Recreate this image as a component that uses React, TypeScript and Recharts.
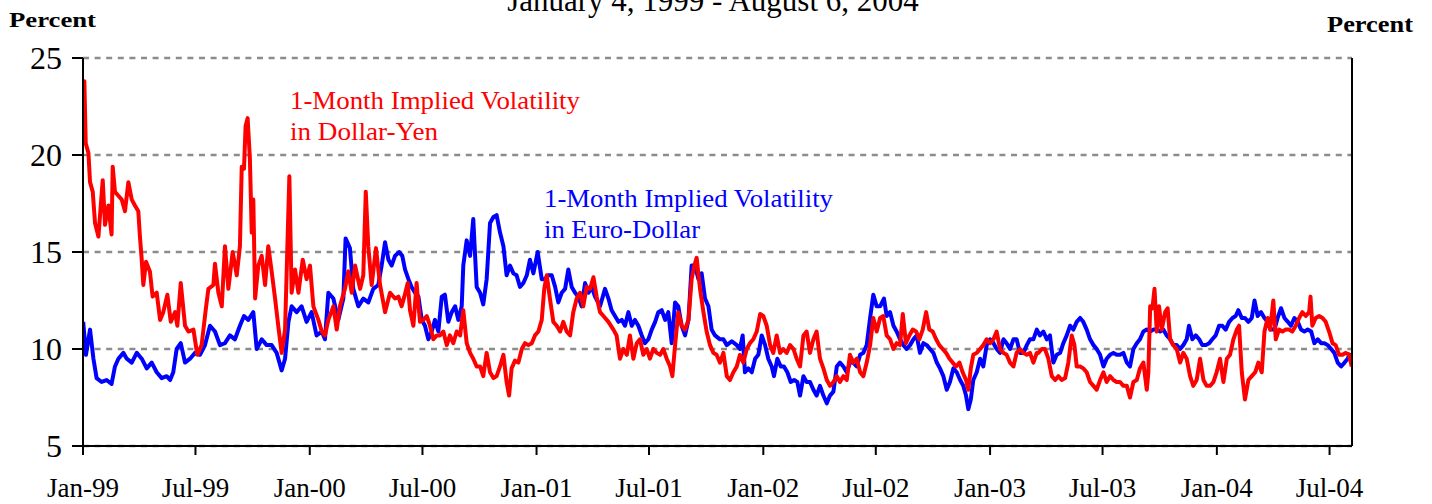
import React from 'react';
import { LineChart, Line, XAxis, YAxis, CartesianGrid } from 'recharts';

// Decimal-year time stamps and values
const yenT = [
  1999.001, 1999.006, 1999.012, 1999.024, 1999.031, 1999.043, 1999.053, 1999.068, 1999.087, 1999.097,
  1999.112, 1999.126, 1999.131, 1999.141, 1999.156, 1999.171, 1999.185, 1999.200, 1999.215, 1999.229,
  1999.244, 1999.251, 1999.259, 1999.266, 1999.278, 1999.295, 1999.307, 1999.325, 1999.340, 1999.354,
  1999.372, 1999.387, 1999.406, 1999.416, 1999.431, 1999.450, 1999.465, 1999.487, 1999.504, 1999.523,
  1999.542, 1999.553, 1999.575, 1999.582, 1999.597, 1999.612, 1999.626, 1999.641, 1999.660, 1999.678,
  1999.692, 1999.700, 1999.710, 1999.717, 1999.726, 1999.736, 1999.744, 1999.751, 1999.759, 1999.773,
  1999.788, 1999.803, 1999.817, 1999.832, 1999.847, 1999.861, 1999.876, 1999.891, 1999.910, 1999.920,
  1999.935, 1999.950, 1999.969, 1999.986, 2000.001, 2000.016, 2000.038, 2000.053, 2000.067, 2000.082,
  2000.104, 2000.119, 2000.133, 2000.155, 2000.170, 2000.185, 2000.200, 2000.222, 2000.236, 2000.247,
  2000.258, 2000.273, 2000.292, 2000.310, 2000.332, 2000.354, 2000.376,
  2000.391, 2000.405, 2000.417, 2000.432, 2000.442, 2000.457, 2000.471, 2000.486, 2000.501, 2000.516,
  2000.530, 2000.545, 2000.560, 2000.574, 2000.589, 2000.604, 2000.618, 2000.633, 2000.648, 2000.663,
  2000.677, 2000.692, 2000.707, 2000.721, 2000.736, 2000.751, 2000.765, 2000.780, 2000.795, 2000.810,
  2000.824, 2000.839, 2000.854, 2000.868, 2000.879, 2000.890, 2000.905, 2000.920, 2000.935, 2000.949,
  2000.964, 2000.979, 2000.993, 2001.008, 2001.023, 2001.034, 2001.045, 2001.059, 2001.074, 2001.089,
  2001.104, 2001.118, 2001.133, 2001.148, 2001.162, 2001.177, 2001.192, 2001.206, 2001.221, 2001.236,
  2001.251, 2001.265, 2001.280, 2001.295, 2001.317, 2001.339, 2001.353, 2001.368, 2001.383, 2001.398,
  2001.412, 2001.427, 2001.442, 2001.456, 2001.471, 2001.486, 2001.500, 2001.515, 2001.530, 2001.545,
  2001.559, 2001.574, 2001.589, 2001.599, 2001.611, 2001.625, 2001.640, 2001.655, 2001.670, 2001.684,
  2001.696, 2001.706, 2001.721, 2001.736, 2001.750, 2001.765, 2001.780, 2001.794, 2001.809,
  2001.824, 2001.839, 2001.853, 2001.868, 2001.883, 2001.897, 2001.912, 2001.927, 2001.941, 2001.956,
  2001.971, 2001.986, 2002.000, 2002.015, 2002.030, 2002.044, 2002.059, 2002.074, 2002.088, 2002.103,
  2002.118, 2002.133, 2002.147, 2002.162, 2002.177, 2002.191, 2002.206, 2002.221, 2002.235, 2002.250,
  2002.265, 2002.280, 2002.294, 2002.309, 2002.324, 2002.338, 2002.353, 2002.368, 2002.382, 2002.397,
  2002.412, 2002.427, 2002.441, 2002.456, 2002.471, 2002.485, 2002.500, 2002.515, 2002.529, 2002.544,
  2002.559, 2002.574, 2002.588, 2002.603, 2002.615, 2002.629, 2002.644, 2002.659, 2002.674, 2002.688,
  2002.703, 2002.718, 2002.732, 2002.747, 2002.762, 2002.776, 2002.791, 2002.806, 2002.821, 2002.835,
  2002.850, 2002.865, 2002.879, 2002.894, 2002.904, 2002.915, 2002.926, 2002.941, 2002.956, 2002.970,
  2002.985, 2003.000, 2003.015, 2003.029, 2003.044, 2003.059, 2003.073, 2003.088, 2003.103, 2003.117,
  2003.132, 2003.147, 2003.162, 2003.176, 2003.191, 2003.206,
  2003.213, 2003.228, 2003.242, 2003.257, 2003.272, 2003.287, 2003.301, 2003.316, 2003.331, 2003.345,
  2003.360, 2003.372, 2003.382, 2003.397, 2003.411, 2003.426, 2003.441, 2003.456, 2003.470, 2003.485,
  2003.500, 2003.514, 2003.529, 2003.544, 2003.558, 2003.573, 2003.588, 2003.603, 2003.617, 2003.632,
  2003.647, 2003.661, 2003.676, 2003.691, 2003.698, 2003.706, 2003.716, 2003.725, 2003.735, 2003.745,
  2003.757, 2003.772, 2003.783, 2003.794, 2003.808, 2003.823, 2003.838, 2003.852, 2003.867, 2003.882,
  2003.896, 2003.911, 2003.926, 2003.941, 2003.955, 2003.970, 2003.985, 2003.999, 2004.014, 2004.029,
  2004.044, 2004.058, 2004.073, 2004.088, 2004.098, 2004.110, 2004.124, 2004.139, 2004.154, 2004.169,
  2004.183, 2004.198, 2004.210, 2004.224, 2004.235, 2004.249, 2004.260, 2004.274, 2004.289, 2004.304,
  2004.318, 2004.333, 2004.348, 2004.363, 2004.377, 2004.392, 2004.407, 2004.413, 2004.421, 2004.436,
  2004.451, 2004.466, 2004.480, 2004.495, 2004.510, 2004.524, 2004.539, 2004.554, 2004.568, 2004.583,
  2004.595,
];
const yenV = [
  20.8, 23.8, 20.6, 20.1, 18.6, 18.1, 16.5, 15.8, 18.7, 16.4,
  17.4, 15.9, 19.4, 18.1, 17.9, 17.7, 17.1, 18.6, 17.7, 17.4,
  17.1, 15.8, 14.6, 13.3, 14.5, 14.0, 12.7, 12.9, 11.5, 11.9,
  12.8, 11.4, 11.9, 11.2, 13.4, 11.2, 10.9, 11.0, 9.7, 10.2,
  12.1, 13.1, 13.3, 14.4, 12.9, 12.2, 15.3, 13.1, 15.0, 13.8,
  15.3, 19.4, 19.3, 21.5, 21.9, 19.8, 16.0, 17.7, 12.6, 14.3,
  14.8, 13.3, 15.3, 14.0, 12.6, 11.2, 9.8, 11.0, 18.9, 12.9,
  14.1, 12.9, 14.6, 13.6, 14.3, 12.2, 11.5, 10.9, 10.7, 11.5,
  12.2, 11.0, 12.2, 13.1, 14.0, 12.9, 14.3, 13.1, 13.8, 18.1,
  15.3, 13.3, 15.2, 13.3, 11.9, 12.9, 12.6,
  12.7, 12.2, 12.7, 13.4, 12.0, 11.2, 13.4, 11.4, 11.5, 11.7,
  11.2, 10.5, 10.7, 10.7, 10.9, 10.2, 10.7, 10.3, 10.9, 10.7,
  12.0, 10.3, 9.8, 9.5, 9.1, 9.1, 8.6, 9.8, 8.8, 8.5,
  8.6, 9.1, 9.7, 8.3, 7.6, 9.0, 9.4, 9.3, 10.0, 10.3,
  10.2, 10.3, 10.7, 10.9, 11.5, 13.1, 13.8, 12.6, 11.4, 11.2,
  10.9, 11.4, 10.9, 10.7, 11.9, 12.6, 12.9, 12.2, 13.2, 13.1,
  13.7, 12.7, 11.9, 11.7, 11.4, 11.0, 10.7, 9.5, 10.0, 9.7,
  10.7, 9.5, 10.3, 10.5, 9.7, 10.0, 9.5, 10.0, 9.8, 9.7,
  10.0, 9.5, 9.1, 8.6, 10.2, 11.9, 11.2, 11.0, 11.5, 13.6,
  14.3, 14.7, 13.1, 11.9, 10.9, 10.2, 9.8, 9.7, 9.3,
  9.8, 8.6, 8.4, 8.8, 9.1, 9.7, 9.3, 10.0, 10.3, 10.5,
  10.9, 11.8, 11.7, 11.2, 10.2, 9.8, 10.7, 9.8, 10.0, 9.8,
  10.2, 10.0, 9.5, 9.1, 10.7, 10.9, 9.8, 10.5, 10.9, 9.5,
  9.0, 8.4, 8.1, 8.3, 8.6, 8.3, 8.6, 8.4, 9.7, 9.3,
  9.5, 8.8, 8.6, 9.3, 10.2, 11.6, 10.9, 11.6, 11.7, 10.7,
  10.5, 10.0, 10.3, 10.2, 11.8, 10.3, 10.7, 11.0, 10.9, 10.5,
  11.0, 11.9, 11.0, 10.9, 10.5, 10.2, 10.0, 9.8, 9.5, 9.3,
  9.1, 9.3, 8.8, 8.4, 7.9, 9.0, 9.7, 9.8, 10.0, 10.2,
  10.5, 10.3, 10.5, 10.9, 10.0, 9.8, 9.7, 9.3, 9.1, 9.8,
  10.0, 9.8, 9.7, 9.8, 9.3, 9.8,
  9.8, 10.0, 10.0, 9.5, 8.6, 8.4, 8.6, 8.4, 8.5, 9.3,
  10.7, 10.2, 9.1, 9.1, 9.0, 8.8, 8.3, 8.1, 7.9, 8.4,
  8.8, 8.3, 8.6, 8.4, 8.3, 8.3, 8.1, 8.1, 7.5, 8.3,
  8.4, 9.0, 9.3, 7.9, 8.8, 12.2, 12.1, 13.1, 10.9, 12.2,
  11.0, 11.9, 12.1, 10.5, 10.2, 10.0, 9.3, 9.8, 9.5, 8.6,
  8.1, 8.4, 9.5, 8.4, 8.1, 8.1, 8.3, 8.8, 9.5, 8.3,
  9.5, 9.7, 10.5, 11.0, 11.2, 8.8, 7.4, 8.4, 8.6, 8.8,
  9.3, 8.8, 10.9, 11.6, 11.0, 12.5, 10.5, 11.0, 10.9, 11.0,
  11.0, 10.9, 11.2, 11.6, 11.9, 11.7, 11.9, 12.7, 11.2, 11.6,
  11.7, 11.6, 11.4, 10.9, 10.3, 10.2, 9.7, 9.7, 9.8, 9.7,
  9.1,
];

const euroT = [
  1999.001, 1999.013, 1999.031, 1999.046, 1999.060, 1999.082, 1999.104, 1999.126, 1999.141, 1999.156,
  1999.178, 1999.193, 1999.215, 1999.237, 1999.259, 1999.281, 1999.303, 1999.325, 1999.347, 1999.369,
  1999.384, 1999.398, 1999.413, 1999.431, 1999.450, 1999.472, 1999.494, 1999.516, 1999.538, 1999.560,
  1999.582, 1999.604, 1999.626, 1999.648, 1999.670, 1999.692, 1999.710, 1999.729, 1999.751, 1999.766,
  1999.788, 1999.810, 1999.832, 1999.854, 1999.876, 1999.891, 1999.906, 1999.920, 1999.942, 1999.964,
  1999.986, 2000.008, 2000.030, 2000.053, 2000.067, 2000.082, 2000.104, 2000.126, 2000.148, 2000.158,
  2000.177, 2000.192, 2000.214, 2000.236, 2000.258, 2000.280, 2000.302, 2000.317, 2000.332, 2000.347,
  2000.361, 2000.376,
  2000.394, 2000.408, 2000.420, 2000.435, 2000.449, 2000.464, 2000.479, 2000.494, 2000.508, 2000.523,
  2000.538, 2000.552, 2000.567, 2000.582, 2000.596, 2000.611, 2000.626, 2000.641, 2000.655, 2000.670,
  2000.677, 2000.692, 2000.707, 2000.721, 2000.736, 2000.751, 2000.765, 2000.780, 2000.795, 2000.810,
  2000.824, 2000.839, 2000.854, 2000.868, 2000.883, 2000.898, 2000.912, 2000.927, 2000.942, 2000.957,
  2000.971, 2000.986, 2001.005, 2001.023, 2001.037, 2001.052, 2001.067, 2001.082, 2001.096, 2001.111,
  2001.126, 2001.140, 2001.155, 2001.170, 2001.184, 2001.199, 2001.214, 2001.229, 2001.243, 2001.258,
  2001.280, 2001.302, 2001.317, 2001.331, 2001.346, 2001.361, 2001.376, 2001.390, 2001.405, 2001.420,
  2001.434, 2001.449, 2001.464, 2001.478, 2001.493, 2001.508, 2001.523, 2001.537, 2001.552, 2001.567,
  2001.581, 2001.596, 2001.611, 2001.625, 2001.640, 2001.655, 2001.670, 2001.684, 2001.699, 2001.714,
  2001.728, 2001.743, 2001.758, 2001.772, 2001.787, 2001.809,
  2001.824, 2001.839, 2001.861, 2001.883, 2001.897, 2001.909, 2001.919, 2001.934, 2001.949, 2001.964,
  2001.978, 2001.993, 2002.008, 2002.022, 2002.037, 2002.047, 2002.062, 2002.077, 2002.091, 2002.106,
  2002.121, 2002.136, 2002.150, 2002.162, 2002.177, 2002.191, 2002.206, 2002.221, 2002.235, 2002.250,
  2002.265, 2002.280, 2002.294, 2002.309, 2002.324, 2002.338, 2002.353, 2002.368, 2002.382, 2002.397,
  2002.412, 2002.427, 2002.441, 2002.456, 2002.471, 2002.485, 2002.500, 2002.515, 2002.532, 2002.544,
  2002.559, 2002.574, 2002.588, 2002.603, 2002.618, 2002.632, 2002.647, 2002.662, 2002.676, 2002.691,
  2002.706, 2002.721, 2002.735, 2002.750, 2002.765, 2002.779, 2002.794, 2002.809, 2002.823, 2002.838,
  2002.853, 2002.868, 2002.882, 2002.894, 2002.904, 2002.915, 2002.926, 2002.941, 2002.956, 2002.970,
  2002.985, 2003.000, 2003.015, 2003.029, 2003.044, 2003.059, 2003.073, 2003.088, 2003.103, 2003.117,
  2003.132, 2003.147, 2003.162, 2003.176, 2003.191, 2003.206,
  2003.220, 2003.235, 2003.250, 2003.264, 2003.279, 2003.294, 2003.309, 2003.323, 2003.338, 2003.353,
  2003.367, 2003.382, 2003.397, 2003.411, 2003.426, 2003.441, 2003.456, 2003.470, 2003.485, 2003.500,
  2003.514, 2003.529, 2003.544, 2003.558, 2003.573, 2003.588, 2003.603, 2003.617, 2003.632, 2003.647,
  2003.661, 2003.676, 2003.691, 2003.706, 2003.720, 2003.735, 2003.750, 2003.764, 2003.779, 2003.794,
  2003.808, 2003.823, 2003.838, 2003.852, 2003.867, 2003.877, 2003.892, 2003.907, 2003.922, 2003.936,
  2003.951, 2003.966, 2003.980, 2003.995, 2004.010, 2004.024, 2004.039, 2004.054, 2004.069, 2004.083,
  2004.095, 2004.110, 2004.124, 2004.139, 2004.154, 2004.166, 2004.180, 2004.195, 2004.210, 2004.224,
  2004.239, 2004.254, 2004.268, 2004.283, 2004.298, 2004.313, 2004.327, 2004.342, 2004.357, 2004.371,
  2004.386, 2004.401, 2004.416, 2004.430, 2004.445, 2004.460, 2004.474, 2004.489, 2004.504, 2004.518,
  2004.533, 2004.548, 2004.563, 2004.577, 2004.588,
];
const euroV = [
  11.4, 9.7, 11.0, 9.5, 8.5, 8.3, 8.4, 8.2, 9.1, 9.5,
  9.8, 9.5, 9.3, 9.8, 9.5, 9.0, 9.3, 8.8, 8.5, 8.6,
  8.4, 8.8, 10.0, 10.3, 9.3, 9.5, 9.8, 9.7, 10.2, 11.2,
  10.9, 10.2, 10.3, 10.7, 10.5, 11.2, 11.7, 11.5, 11.9, 10.0,
  10.5, 10.2, 10.2, 9.8, 8.9, 9.5, 11.4, 12.2, 11.9, 12.2,
  11.4, 11.9, 10.7, 10.9, 10.5, 12.9, 12.6, 11.5, 12.6, 15.7,
  15.2, 13.1, 12.2, 12.6, 12.4, 13.1, 13.3, 14.3, 15.5, 14.6,
  14.3, 14.8,
  15.0, 14.8, 14.1, 13.6, 13.2, 12.9, 12.7, 11.5, 11.2, 10.5,
  10.9, 11.5, 10.9, 12.7, 12.8, 11.4, 11.9, 12.2, 11.5, 12.2,
  14.3, 15.6, 14.8, 16.7, 13.2, 12.9, 12.3, 13.6, 16.5, 16.8,
  16.9, 16.0, 15.3, 13.8, 14.3, 13.9, 13.8, 13.2, 13.4, 13.8,
  14.6, 13.9, 15.0, 13.6, 13.6, 13.8, 13.8, 13.2, 12.4, 12.9,
  13.1, 14.1, 13.2, 12.9, 12.7, 12.2, 13.4, 12.9, 13.2, 12.7,
  12.2, 13.1, 12.6, 12.0, 11.7, 11.4, 11.5, 11.2, 11.9, 11.2,
  11.5, 11.2, 10.7, 10.3, 10.5, 11.0, 11.4, 11.9, 12.0, 11.5,
  11.9, 10.3, 12.4, 12.2, 11.2, 10.7, 11.5, 14.3, 14.3, 13.6,
  13.9, 12.6, 12.2, 11.0, 10.7, 10.5,
  10.5, 10.2, 10.4, 10.2, 10.0, 10.7, 8.8, 9.0, 8.8, 9.5,
  9.7, 10.7, 10.2, 9.5, 9.1, 8.6, 9.5, 9.1, 9.1, 8.8,
  8.3, 8.4, 8.3, 7.6, 8.6, 8.3, 8.3, 7.9, 7.6, 8.1,
  7.6, 7.2, 7.6, 7.8, 9.1, 9.3, 9.1, 8.8, 9.3, 9.3,
  9.1, 9.7, 9.8, 10.2, 11.6, 12.8, 12.2, 12.2, 12.6, 11.7,
  11.9, 11.2, 10.9, 10.5, 10.2, 10.0, 10.2, 10.5, 10.7, 9.8,
  10.3, 10.2, 10.0, 9.8, 9.3, 9.0, 8.6, 7.9, 8.3, 9.0,
  8.8, 8.4, 8.1, 7.6, 6.9, 7.4, 8.4, 8.8, 9.5, 9.1,
  10.2, 10.5, 10.3, 10.0, 9.8, 10.5, 10.3, 10.0, 10.5, 10.5,
  9.8, 9.8, 10.2, 10.5, 10.5, 11.0,
  10.7, 10.9, 10.5, 10.7, 9.3, 9.7, 9.8, 10.3, 10.7, 11.2,
  11.0, 11.4, 11.6, 11.4, 11.0, 10.5, 10.2, 10.0, 9.7, 9.1,
  9.5, 9.7, 9.8, 9.7, 9.7, 9.8, 9.3, 9.1, 10.0, 10.3,
  10.5, 10.9, 11.0, 10.9, 11.0, 11.0, 10.9, 11.0, 10.7, 10.5,
  10.2, 10.2, 10.0, 10.2, 10.5, 11.2, 10.5, 10.7, 10.5, 10.2,
  10.2, 10.3, 10.5, 10.7, 11.2, 11.2, 11.0, 11.4, 11.6, 11.7,
  12.0, 11.6, 11.6, 11.4, 11.6, 12.5, 11.7, 11.9, 11.6, 11.4,
  11.0, 11.0, 11.6, 12.1, 11.6, 11.4, 11.2, 11.6, 11.4, 11.0,
  10.9, 11.0, 10.9, 10.3, 10.5, 10.3, 10.3, 10.2, 10.0, 9.8,
  9.3, 9.1, 9.3, 9.5, 9.8,
];

const xTickValues = [1999, 1999.496, 2000, 2000.497, 2001, 2001.496, 2002, 2002.496, 2003, 2003.496, 2004, 2004.497];
const xTickLabels = ['Jan-99', 'Jul-99', 'Jan-00', 'Jul-00', 'Jan-01', 'Jul-01', 'Jan-02', 'Jul-02', 'Jan-03', 'Jul-03', 'Jan-04', 'Jul-04'];
const yTicks = [5, 10, 15, 20, 25];

const yenData = yenT.map((t, i) => ({ t, v: yenV[i] }));
const euroData = euroT.map((t, i) => ({ t, v: euroV[i] }));

const FONT = '"Liberation Serif", "Times New Roman", serif';

const RightTick = (props: any) => {
  const { x, y, payload } = props;
  const axisX = x - 23;
  return (
    <g>
      <line x1={axisX - 10} x2={axisX} y1={y} y2={y} stroke="#000" strokeWidth={2} />
      <text x={x} y={y} dy="0.355em" textAnchor="start" fontSize={32} fontFamily={FONT} fill="#000">
        {payload.value}
      </text>
    </g>
  );
};

export default function App() {
  return (
    <div style={{ position: 'absolute', left: 0, top: 0, width: 1432, height: 504, background: '#fff' }}>
      <LineChart width={1432} height={504} margin={{ top: 58, right: 0, bottom: 0, left: 0 }}>
        <CartesianGrid yAxisId="left" vertical={false} stroke="#8c8c8c" strokeWidth={2.5} strokeDasharray="6 5.6" />
        <XAxis
          dataKey="t"
          type="number"
          domain={[1999, 2004.596]}
          ticks={xTickValues}
          tickFormatter={(v: number) => xTickLabels[xTickValues.indexOf(v)] ?? ''}
          allowDataOverflow
          height={58}
          axisLine={{ stroke: '#000', strokeWidth: 2 }}
          tickLine={{ stroke: '#000', strokeWidth: 2 }}
          tickSize={9}
          tickMargin={23}
          tick={{ fontSize: 27, fontFamily: FONT, fill: '#000' }}
          interval={0}
        />
        <YAxis
          yAxisId="left"
          domain={[5, 25]}
          ticks={yTicks}
          width={83}
          axisLine={{ stroke: '#000', strokeWidth: 2 }}
          tickLine={{ stroke: '#000', strokeWidth: 2 }}
          tickSize={11}
          tickMargin={10}
          tick={{ fontSize: 32, fontFamily: FONT, fill: '#000' }}
          interval={0}
        />
        <YAxis
          yAxisId="right"
          orientation="right"
          domain={[5, 25]}
          ticks={yTicks}
          width={80}
          axisLine={{ stroke: '#000', strokeWidth: 2 }}
          tickLine={{ stroke: '#000', strokeWidth: 2 }}
          tickSize={11}
          tickMargin={12}
          tick={<RightTick />}
          interval={0}
        />
        <Line
          yAxisId="left"
          data={euroData}
          dataKey="v"
          type="linear"
          stroke="#0000ff"
          strokeWidth={4}
          dot={false}
          isAnimationActive={false}
          strokeLinejoin="round"
        />
        <Line
          yAxisId="left"
          data={yenData}
          dataKey="v"
          type="linear"
          stroke="#ff0000"
          strokeWidth={4}
          dot={false}
          isAnimationActive={false}
          strokeLinejoin="round"
        />
      </LineChart>
      <svg
        width={1432}
        height={504}
        style={{ position: 'absolute', left: 0, top: 0, pointerEvents: 'none' }}
      >
        <text x={713} y={11} textAnchor="middle" fontSize={31} fontFamily={FONT} fill="#000">
          January 4, 1999 - August 6, 2004
        </text>
        <text x={9} y={27} fontSize={22} fontWeight="bold" fontFamily={FONT} fill="#000" textLength={87} lengthAdjust="spacingAndGlyphs">
          Percent
        </text>
        <text x={1327} y={32} fontSize={23} fontWeight="bold" fontFamily={FONT} fill="#000" textLength={86} lengthAdjust="spacingAndGlyphs">
          Percent
        </text>
        <text x={290} y={109} fontSize={25.5} fontFamily={FONT} fill="#ff0000" textLength={290} lengthAdjust="spacingAndGlyphs">
          1-Month Implied Volatility
        </text>
        <text x={290} y={140} fontSize={25.5} fontFamily={FONT} fill="#ff0000" textLength={148} lengthAdjust="spacingAndGlyphs">
          in Dollar-Yen
        </text>
        <text x={544} y={207} fontSize={25.5} fontFamily={FONT} fill="#0000ff" textLength={289} lengthAdjust="spacingAndGlyphs">
          1-Month Implied Volatility
        </text>
        <text x={544} y={238} fontSize={25.5} fontFamily={FONT} fill="#0000ff" textLength={156} lengthAdjust="spacingAndGlyphs">
          in Euro-Dollar
        </text>
      </svg>
    </div>
  );
}
